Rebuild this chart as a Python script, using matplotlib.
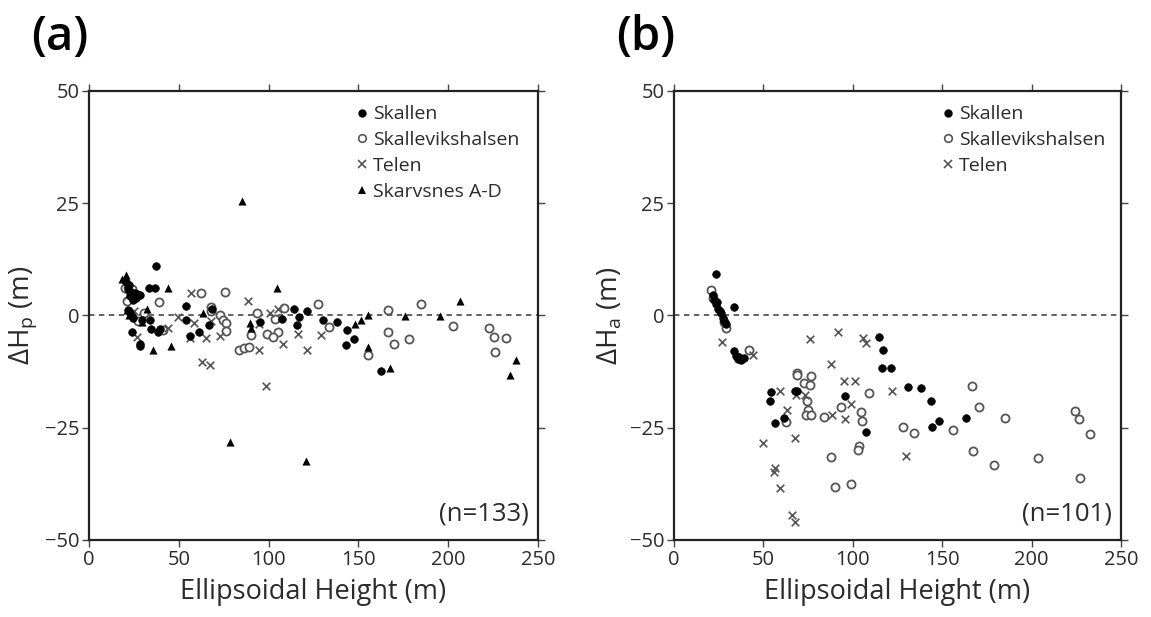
import matplotlib
matplotlib.use("Agg")
import matplotlib.pyplot as plt
from matplotlib.lines import Line2D

plt.rcParams["font.family"] = ["Open Sans", "DejaVu Sans"]
plt.rcParams["mathtext.fontset"] = "custom"
plt.rcParams["mathtext.rm"] = "Open Sans"
plt.rcParams["mathtext.it"] = "Open Sans"

# ---- panel (a): dH_p vs ellipsoidal height ----
a_skallen_x = [37.3, 20.5, 22.5, 21.7, 23.5, 25.5, 27.0, 28.5, 23.0, 26.0, 24.5, 33.2, 37.0,
               53.9, 21.9, 23.0, 23.8, 24.5, 29.5, 34.2, 54.3, 24.2, 28.5, 28.5, 34.6, 39.3,
               38.7, 56.5, 61.5, 67.0, 68.3, 95.2, 107.6, 114.1, 116.9, 115.6, 121.2, 130.5,
               138.3, 143.8, 147.7, 143.1, 162.6]
a_skallen_y = [10.9, 7.5, 6.8, 5.8, 5.3, 5.0, 4.8, 4.6, 4.3, 3.8, 3.4, 6.1, 6.1,
               2.1, 1.2, 0.5, -0.1, -0.6, -1.1, -1.1, -1.0, -3.8, -6.4, -6.9, -3.1, -3.0,
               -3.7, -4.5, -3.8, -2.1, 1.5, -1.5, -0.7, 1.4, -0.4, -2.2, 1.0, -1.0,
               -1.5, -3.3, -5.3, -6.5, -12.4]

a_halsen_x = [20.0, 21.3, 38.8, 62.5, 75.8, 67.9, 30.6, 27.4, 41.0, 73.1, 74.4, 76.2, 76.2,
              93.4, 103.6, 108.6, 127.7, 90.2, 98.9, 105.4, 102.6, 83.5, 86.5, 89.3, 133.5,
              166.3, 184.9, 166.7, 170.0, 178.0, 155.5, 202.6, 222.9, 225.6, 232.0, 226.2,
              24.0, 68.0]
a_halsen_y = [6.0, 3.1, 3.0, 5.0, 5.3, 1.8, 0.6, -1.2, -3.3, 0.0, -1.0, -1.7, -3.5,
              0.6, -0.7, 1.7, 2.6, -4.3, -4.1, -3.6, -4.8, -7.6, -7.2, -7.0, -2.6,
              1.3, 2.6, -3.7, -6.3, -5.2, -8.9, -2.4, -2.7, -4.7, -5.1, -8.1,
              5.8, 0.9]

a_telen_x = [56.7, 88.3, 49.7, 58.7, 56.5, 65.2, 67.9, 72.8, 62.9, 67.5, 26.6, 43.8, 100.8,
             105.4, 94.7, 94.7, 98.4, 107.8, 116.6, 121.6, 129.5, 22.0, 25.0]
a_telen_y = [5.0, 3.3, -0.3, -1.7, -5.0, -5.1, -1.2, -4.5, -10.3, -11.0, -4.7, -2.8, 0.6,
             1.5, -1.9, -7.6, -15.7, -6.3, -4.1, -7.6, -4.3, 4.5, 1.0]

a_skarv_x = [85.0, 18.6, 20.6, 21.0, 44.2, 104.5, 206.9, 155.5, 176.0, 195.4, 63.7, 32.1,
             21.3, 89.6, 90.0, 29.3, 45.5, 35.8, 155.5, 167.6, 148.1, 151.3, 237.6, 234.4,
             78.5, 120.6, 22.5]
a_skarv_y = [25.5, 8.2, 9.1, 7.0, 6.2, 6.2, 3.2, 0.0, -0.2, -0.2, 0.6, 1.5,
             1.3, -1.6, -2.8, -1.4, -6.7, -7.6, -7.1, -11.7, -2.0, -1.1, -10.0, -13.2,
             -28.1, -32.4, 0.2]

# ---- panel (b): dH_a vs ellipsoidal height ----
b_skallen_x = [23.3, 33.6, 21.8, 22.5, 23.5, 24.5, 25.5, 26.5, 27.5, 28.0, 29.0, 33.6, 34.5,
               35.5, 36.5, 37.5, 39.0, 114.5, 116.9, 116.5, 121.5, 130.9, 138.3, 143.5,
               148.0, 144.5, 163.1, 95.4, 107.6, 54.4, 53.5, 56.3, 61.5, 67.5, 68.8, 24.0]
b_skallen_y = [9.3, 1.8, 4.5, 3.5, 2.6, 1.5, 1.0, 0.6, -0.5, -1.3, -2.0, -7.9, -9.0,
               -9.8, -9.2, -9.9, -9.4, -4.8, -7.7, -11.7, -11.7, -15.9, -16.2, -19.1,
               -23.4, -24.9, -22.9, -18.0, -26.0, -17.1, -19.1, -24.0, -22.9, -16.9, -16.9, 3.0]

b_halsen_x = [20.9, 29.3, 41.9, 62.4, 68.8, 68.9, 72.7, 76.4, 75.9, 74.6, 75.0, 73.6, 76.8,
              83.9, 93.2, 104.4, 105.3, 108.9, 103.3, 102.9, 87.6, 90.2, 98.8, 128.1,
              134.0, 156.0, 166.7, 170.4, 167.2, 178.8, 185.3, 203.6, 224.1, 226.3,
              232.5, 226.9, 22.0, 28.0]
b_halsen_y = [5.7, -2.8, -7.7, -23.8, -12.9, -13.3, -15.0, -13.4, -15.6, -19.1, -21.0, -22.1,
              -22.1, -22.6, -20.5, -21.4, -23.4, -17.3, -29.0, -29.9, -31.6, -38.3, -37.6,
              -24.9, -26.2, -25.6, -15.7, -20.4, -30.1, -33.3, -22.9, -31.8, -21.2, -23.1,
              -26.3, -36.2, 3.8, -1.5]

b_telen_x = [26.8, 44.2, 76.2, 91.7, 105.7, 107.6, 88.0, 94.9, 101.0, 121.9, 59.1, 68.4, 73.1,
             63.4, 88.5, 95.5, 98.8, 67.5, 49.8, 56.3, 55.9, 59.1, 129.6, 66.0, 67.5]
b_telen_y = [-5.9, -8.9, -5.3, -3.7, -5.1, -6.2, -10.8, -14.7, -14.5, -16.8, -16.9, -17.8,
             -17.7, -21.0, -22.1, -23.0, -19.7, -27.3, -28.5, -34.0, -34.9, -38.4, -31.4,
             -44.5, -46.0]

TXT = "#2b2b2b"
GREY = "#555555"

fig = plt.figure(figsize=(11.51, 6.17), dpi=100)
ax_a = fig.add_axes([0.0773, 0.1248, 0.390, 0.728])
ax_b = fig.add_axes([0.5856, 0.1248, 0.3884, 0.728])

style_skallen = dict(marker="o", s=30, c="black", edgecolors="black", linewidths=0.5)
style_halsen = dict(marker="o", s=34, facecolors="white", edgecolors=GREY, linewidths=1.3)
style_telen = dict(marker="x", s=30, c=GREY, linewidths=1.2)
style_skarv = dict(marker="^", s=34, c="black", linewidths=0)


def style_axes(ax, ylab, ntext):
    ax.axhline(0, color=GREY, ls=(0, (3, 2.5)), lw=1.3, zorder=0)
    ax.set_xlim(0, 250)
    ax.set_ylim(-50, 50)
    ax.set_xticks([0, 50, 100, 150, 200, 250])
    ax.set_yticks([-50, -25, 0, 25, 50])
    ax.tick_params(direction="out", length=5, width=1, colors="#444444",
                   labelcolor=TXT, labelsize=14.5, top=True, right=True,
                   labeltop=False, labelright=False, pad=2)
    for sp in ax.spines.values():
        sp.set_linewidth(1.6)
        sp.set_color("#222222")
    ax.set_xlabel("Ellipsoidal Height (m)", fontsize=19.5, color=TXT, labelpad=6)
    ax.set_ylabel(ylab, fontsize=20, color=TXT, labelpad=4)
    ax.text(0.98, 0.03, ntext, transform=ax.transAxes, ha="right", va="bottom",
            fontsize=18.5, color=TXT)


ax_a.scatter(a_halsen_x, a_halsen_y, **style_halsen)
ax_a.scatter(a_telen_x, a_telen_y, **style_telen)
ax_a.scatter(a_skarv_x, a_skarv_y, **style_skarv)
ax_a.scatter(a_skallen_x, a_skallen_y, **style_skallen)
style_axes(ax_a, r"$\Delta$H$_\mathrm{p}$ (m)", "(n=133)")

ax_b.scatter(b_halsen_x, b_halsen_y, **style_halsen)
ax_b.scatter(b_telen_x, b_telen_y, **style_telen)
ax_b.scatter(b_skallen_x, b_skallen_y, **style_skallen)
style_axes(ax_b, r"$\Delta$H$_\mathrm{a}$ (m)", "(n=101)")

h_skallen = Line2D([], [], ls="none", marker="o", ms=5, mfc="black", mec="black")
h_halsen = Line2D([], [], ls="none", marker="o", ms=5.5, mfc="white", mec=GREY, mew=1.2)
h_telen = Line2D([], [], ls="none", marker="x", ms=5.5, mec=GREY, mew=1.2)
h_skarv = Line2D([], [], ls="none", marker="^", ms=6, mfc="black", mec="black", mew=0)

leg_kw = dict(loc="upper left", frameon=False, fontsize=14, handlelength=0.5,
              handletextpad=0.3, labelspacing=0.4, borderaxespad=0, labelcolor=TXT)
ax_a.legend([h_skallen, h_halsen, h_telen, h_skarv],
            ["Skallen", "Skallevikshalsen", "Telen", "Skarvsnes A-D"],
            bbox_to_anchor=(0.58, 0.985), **leg_kw)
ax_b.legend([h_skallen, h_halsen, h_telen],
            ["Skallen", "Skallevikshalsen", "Telen"],
            bbox_to_anchor=(0.585, 0.985), **leg_kw)

fig.text(0.027, 0.94, "(a)", fontsize=34, fontweight="semibold", color="black",
         ha="left", va="center")
fig.text(0.535, 0.94, "(b)", fontsize=34, fontweight="semibold", color="black",
         ha="left", va="center")

fig.savefig("out.png", dpi=100, facecolor="white")
